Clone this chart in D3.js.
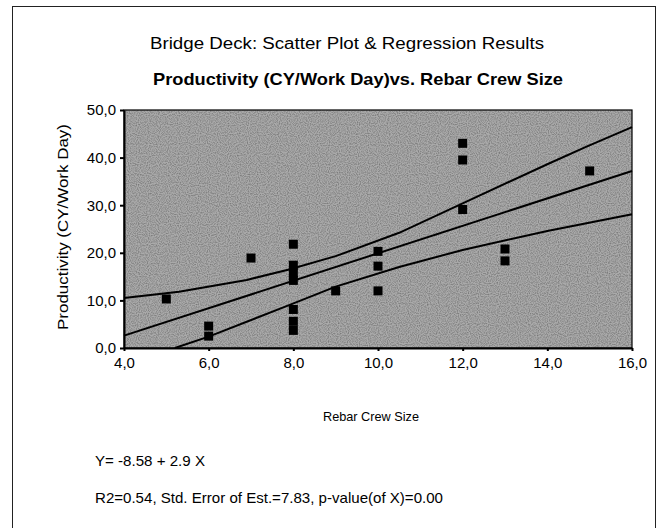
<!DOCTYPE html>
<html>
<head>
<meta charset="utf-8">
<script src="https://cdn.jsdelivr.net/npm/d3@7"></script>
<style>
  body { margin: 0; background: #fff; }
  text { font-family: "Liberation Sans", Arial, sans-serif; fill: #000; }
</style>
</head>
<body>
<svg id="drawing_region"></svg>
<script>
// crew size vs productivity
const crewSize = [5, 6, 6, 7, 8, 8, 8, 8, 8, 8, 8, 9, 10, 10, 10, 12, 12, 12, 13, 13, 15];
const productivity = [10.3, 4.6, 2.5, 18.9, 21.8, 17.4, 15.8, 14.2, 8.1, 5.6, 3.7, 12.0, 20.3, 17.2, 12.0, 43.0, 39.5, 29.1, 20.8, 18.3, 37.2];

// regression line ends
const fitX = [4, 16];
const fitY = [2.6, 37.2];

// confidence band
const upperX = [4, 5.3, 6.9, 7.9, 9, 10.5, 12, 14, 14.9, 16];
const upperY = [10.5, 11.8, 14.3, 16.5, 19.3, 24.2, 30.4, 38.6, 42.2, 46.4];
const lowerX = [5.2, 6, 7.9, 9, 10.5, 12, 14, 16];
const lowerY = [0, 2.4, 9.0, 12.9, 17.0, 20.6, 24.6, 28.1];

const xTicks = [4, 6, 8, 10, 12, 14, 16];
const yTicks = [0, 10, 20, 30, 40, 50];

const config = {
    width: 661,
    height: 528,
    margin: {top: 110, right: 29, bottom: 180, left: 124}
};

const svg = d3.select('#drawing_region')
    .attr('width', config.width)
    .attr('height', config.height);

const inner_width = config.width - config.margin.left - config.margin.right;
const inner_height = config.height - config.margin.top - config.margin.bottom;

// outer frame
svg.append('rect')
    .attr('x', 12.5).attr('y', 6.5)
    .attr('width', 643).attr('height', 540)
    .attr('fill', 'none')
    .attr('stroke', '#222')
    .attr('stroke-width', 1);

svg.append('text')
    .attr('x', 347).attr('y', 49)
    .attr('text-anchor', 'middle')
    .style('font-size', '16px')
    .attr('textLength', 394)
    .attr('lengthAdjust', 'spacingAndGlyphs')
    .text('Bridge Deck: Scatter Plot & Regression Results');

svg.append('text')
    .attr('x', 358).attr('y', 85)
    .attr('text-anchor', 'middle')
    .style('font-size', '17px')
    .style('font-weight', 'bold')
    .attr('textLength', 410)
    .attr('lengthAdjust', 'spacingAndGlyphs')
    .text('Productivity (CY/Work Day)vs. Rebar Crew Size');

const chart = svg.append('g')
    .attr('transform', `translate(${config.margin.left}, ${config.margin.top})`);

const xscale = d3.scaleLinear().domain([4, 16]).range([0, inner_width]);
const yscale = d3.scaleLinear().domain([0, 50]).range([inner_height, 0]);

// grey plot area with a bit of speckle like the scan
const defs = svg.append('defs');
const filt = defs.append('filter').attr('id', 'speckle')
    .attr('x', 0).attr('y', 0).attr('width', '100%').attr('height', '100%');
filt.append('feTurbulence')
    .attr('type', 'fractalNoise')
    .attr('baseFrequency', 0.9)
    .attr('numOctaves', 1)
    .attr('seed', 3)
    .attr('result', 'noise');
filt.append('feColorMatrix')
    .attr('in', 'noise')
    .attr('type', 'matrix')
    .attr('values', '0 0 0 0 0  0 0 0 0 0  0 0 0 0 0  0 0 0 -1.6 1.0')
    .attr('result', 'dots');
filt.append('feComposite')
    .attr('in', 'dots').attr('in2', 'SourceGraphic').attr('operator', 'in');

chart.append('rect')
    .attr('width', inner_width).attr('height', inner_height)
    .attr('fill', '#aaaaaa');
chart.append('rect')
    .attr('width', inner_width).attr('height', inner_height)
    .attr('fill', '#aaaaaa')
    .attr('opacity', 0.4)
    .attr('filter', 'url(#speckle)');
chart.append('rect')
    .attr('width', inner_width).attr('height', inner_height)
    .attr('fill', 'none')
    .attr('stroke', '#000')
    .attr('stroke-width', 1.2);

// axes
const fmt = d => d3.format('.1f')(d).replace('.', ',');
const xaxis = d3.axisBottom(xscale)
    .tickValues(xTicks)
    .tickSize(3)
    .tickSizeOuter(0)
    .tickFormat(fmt);
const yaxis = d3.axisLeft(yscale)
    .tickValues(yTicks)
    .tickSize(4)
    .tickSizeOuter(0)
    .tickFormat(fmt);

const xg = chart.append('g')
    .attr('transform', `translate(0, ${inner_height})`)
    .call(xaxis);
const yg = chart.append('g').call(yaxis);

[xg, yg].forEach(g => {
    g.select('.domain').attr('stroke', '#000').attr('stroke-width', 2);
    g.selectAll('.tick line').attr('stroke', '#000').attr('stroke-width', 2);
    g.selectAll('.tick text')
        .style('font-family', '"Liberation Sans", Arial, sans-serif')
        .style('font-size', '15px')
        .attr('fill', '#000');
});
xg.selectAll('.tick text').attr('dy', '0.9em');
yg.selectAll('.tick text').attr('dx', '-1px');

// bands and regression line
const line = d3.line().x(d => xscale(d[0])).y(d => yscale(d[1]));
chart.append('path')
    .attr('d', line(upperX.map((x, i) => [x, upperY[i]])))
    .attr('fill', 'none').attr('stroke', '#000').attr('stroke-width', 2);
chart.append('path')
    .attr('d', line(lowerX.map((x, i) => [x, lowerY[i]])))
    .attr('fill', 'none').attr('stroke', '#000').attr('stroke-width', 2);
chart.append('path')
    .attr('d', line(fitX.map((x, i) => [x, fitY[i]])))
    .attr('fill', 'none').attr('stroke', '#000').attr('stroke-width', 2);

// points
const sq = 9;
chart.selectAll('rect.pt')
    .data(crewSize.map((x, i) => ({x: x, y: productivity[i]})))
    .enter()
    .append('rect')
    .attr('class', 'pt')
    .attr('x', d => xscale(d.x) - sq / 2)
    .attr('y', d => yscale(d.y) - sq / 2)
    .attr('width', sq)
    .attr('height', sq)
    .attr('fill', '#000');

// axis titles
svg.append('text')
    .attr('transform', 'translate(68, 227) rotate(-90)')
    .attr('text-anchor', 'middle')
    .style('font-size', '15px')
    .attr('textLength', 206)
    .attr('lengthAdjust', 'spacingAndGlyphs')
    .text('Productivity (CY/Work Day)');

svg.append('text')
    .attr('x', 371).attr('y', 421)
    .attr('text-anchor', 'middle')
    .style('font-size', '13.5px')
    .attr('textLength', 96)
    .attr('lengthAdjust', 'spacingAndGlyphs')
    .text('Rebar Crew Size');

svg.append('text')
    .attr('x', 95).attr('y', 466)
    .style('font-size', '14.5px')
    .attr('textLength', 110)
    .attr('lengthAdjust', 'spacingAndGlyphs')
    .text('Y= -8.58 + 2.9 X');

svg.append('text')
    .attr('x', 95).attr('y', 503)
    .style('font-size', '14.5px')
    .attr('textLength', 348)
    .attr('lengthAdjust', 'spacingAndGlyphs')
    .text('R2=0.54, Std. Error of Est.=7.83, p-value(of X)=0.00');
</script>
</body>
</html>
